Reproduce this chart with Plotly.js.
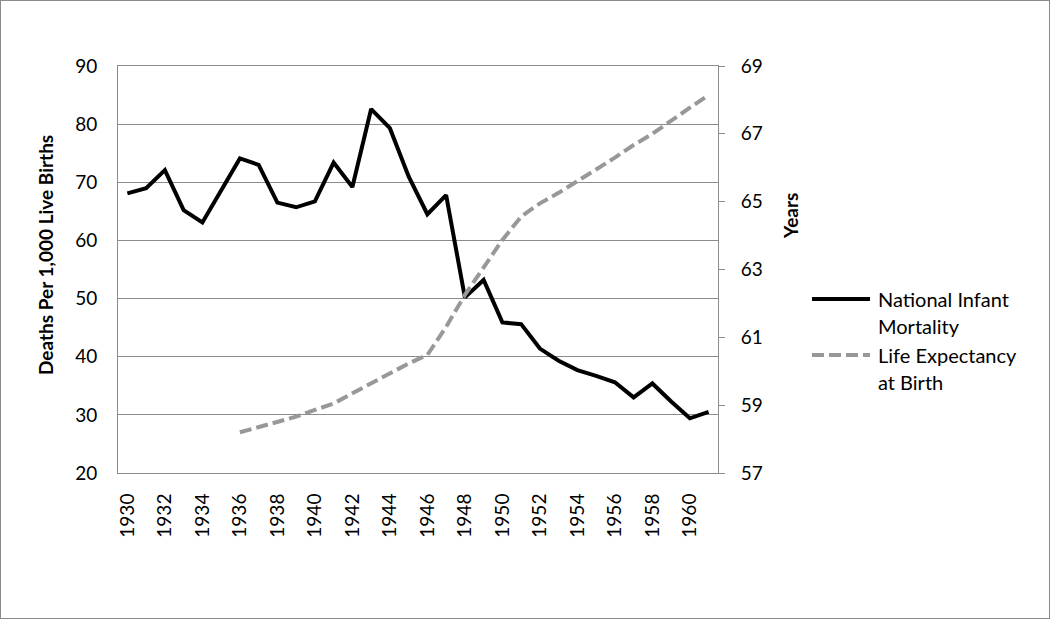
<!DOCTYPE html>
<html>
<head>
<meta charset="utf-8">
<script src="https://cdn.plot.ly/plotly-3.0.1.min.js"></script>
<style>
html,body{margin:0;padding:0;background:#fff;}
#chart{width:1050px;height:619px;}
#frame{position:absolute;left:0;top:0;width:1048px;height:617px;border:1px solid #8a8a8a;pointer-events:none;}
</style>
</head>
<body>
<div id="chart"></div>
<div id="frame"></div>
<script>
// ---- data ----
const years = [1930,1931,1932,1933,1934,1935,1936,1937,1938,1939,1940,1941,1942,1943,1944,1945,
               1946,1947,1948,1949,1950,1951,1952,1953,1954,1955,1956,1957,1958,1959,1960,1961];
const infantMortality = [68.1,69.0,72.1,65.2,63.1,68.7,74.1,73.0,66.5,65.7,66.7,73.4,69.2,82.6,79.3,71.0,
                         64.5,67.8,50.2,53.2,45.9,45.6,41.4,39.3,37.7,36.7,35.6,33.0,35.4,32.3,29.4,30.5];
const lifeYears = [1936,1937,1938,1939,1940,1941,1942,1943,1944,1945,1946,1947,1948,1949,1950,1951,
                   1952,1953,1954,1955,1956,1957,1958,1959,1960,1961];
const lifeExpectancy = [58.2,58.36,58.51,58.66,58.86,59.05,59.35,59.64,59.94,60.23,60.48,61.31,62.25,63.08,63.87,64.56,
                        64.95,65.26,65.59,65.95,66.3,66.67,67.0,67.4,67.77,68.14];
const xTickYears = [1930,1932,1934,1936,1938,1940,1942,1944,1946,1948,1950,1952,1954,1956,1958,1960];
const leftTicks = [20,30,40,50,60,70,80,90];
const rightTicks = [57,59,61,63,65,67,69];
const seriesNames = ["National Infant Mortality","Life Expectancy at Birth"];
const legendLines = [["National Infant","Mortality"],["Life Expectancy","at Birth"]];
const leftTitle = "Deaths Per 1,000 Live Births";
const rightTitle = "Years";

// ---- chart ----
const FONT = "Lato, 'Open Sans', sans-serif";
const TXT = "#000000";
const BLACK = "#000000";
const GRAY = "#989898";
const AX = "#8c8c8c";
const DASH = "12px,5px";

const traces = [
  {x: years, y: infantMortality, name: seriesNames[0], type: "scatter", mode: "lines",
   line: {color: BLACK, width: 4}, yaxis: "y", showlegend: false},
  {x: lifeYears, y: lifeExpectancy, name: seriesNames[1], type: "scatter", mode: "lines",
   line: {color: GRAY, width: 4, dash: DASH}, yaxis: "y2", showlegend: false}
];

// plot area pixel geometry: left 118, right 718, top 66, bottom 473
const W = 600, H = 407, L = 118, T = 66;
const px = v => (v - L) / W;
const py = v => (T + H - v) / H;

const legendColors = [BLACK, GRAY];
const legendDash = ["solid", DASH];
const legendY = [299, 355];
const shapes = [];
const annotations = [];
legendLines.forEach((lines, i) => {
  shapes.push({type: "line", xref: "paper", yref: "paper",
    x0: px(812), x1: px(870), y0: py(legendY[i]), y1: py(legendY[i]),
    line: {color: legendColors[i], width: 4, dash: legendDash[i]}});
  lines.forEach((t, j) => {
    annotations.push({text: t, xref: "paper", yref: "paper", x: px(876), y: py(legendY[i] + j * 27),
      xanchor: "left", yanchor: "middle", showarrow: false,
      font: {family: FONT, size: 20, color: TXT}});
  });
});
annotations.push({text: "<b>" + leftTitle + "</b>", xref: "paper", yref: "paper",
  x: px(45), y: py(255), textangle: -90, xanchor: "center", yanchor: "middle", showarrow: false,
  font: {family: FONT, size: 19, color: TXT}});
annotations.push({text: "<b>" + rightTitle + "</b>", xref: "paper", yref: "paper",
  x: px(790), y: py(216), textangle: -90, xanchor: "center", yanchor: "middle", showarrow: false,
  font: {family: FONT, size: 19, color: TXT}});

const layout = {
  width: 1050, height: 619,
  margin: {l: 118, r: 332, t: 66, b: 146, pad: 0},
  paper_bgcolor: "#ffffff", plot_bgcolor: "#ffffff",
  font: {family: FONT, size: 19, color: TXT},
  showlegend: false,
  xaxis: {range: [1929.5, 1961.5], tickmode: "array", tickvals: xTickYears,
    ticktext: xTickYears.map(String), tickangle: -90, ticks: "", showgrid: false,
    showline: true, mirror: true, linecolor: AX, linewidth: 1, zeroline: false,
    ticklabelstandoff: 12, tickfont: {family: FONT, size: 19, color: TXT}},
  yaxis: {range: [20, 90], tickmode: "array", tickvals: leftTicks, ticks: "",
    showgrid: true, gridcolor: AX, gridwidth: 1, showline: true, linecolor: AX, linewidth: 1,
    zeroline: false, ticklabelstandoff: 16, tickfont: {family: FONT, size: 19, color: TXT}},
  yaxis2: {range: [57, 69], tickmode: "array", tickvals: rightTicks, overlaying: "y", side: "right",
    ticks: "outside", ticklen: 6, tickcolor: AX, tickwidth: 1, showgrid: false,
    showline: true, linecolor: AX, linewidth: 1, zeroline: false, ticklabelstandoff: 12,
    tickfont: {family: FONT, size: 19, color: TXT}},
  shapes: shapes,
  annotations: annotations
};

Plotly.newPlot("chart", traces, layout, {displayModeBar: false, staticPlot: true});
</script>
</body>
</html>
